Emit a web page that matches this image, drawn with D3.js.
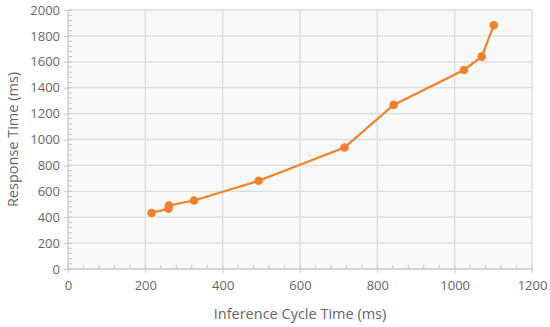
<!DOCTYPE html>
<html><head><meta charset="utf-8">
<script src="https://cdn.jsdelivr.net/npm/d3@7"></script>
<style>body{margin:0;background:#fff}svg{display:block}</style>
</head><body>
<svg id="c" width="550" height="327"></svg>
<script>
const cycleTime = [216, 260, 261, 326, 493, 715, 842, 1024, 1070, 1101];
const responseTime = [432, 466, 490, 529, 681, 938, 1267, 1537, 1640, 1882];
const xTicks = [0, 200, 400, 600, 800, 1000, 1200];
const yTicks = [0, 200, 400, 600, 800, 1000, 1200, 1400, 1600, 1800, 2000];
const xTitle = "Inference Cycle Time (ms)";
const yTitle = "Response Time (ms)";

const svg = d3.select("#c");
const m = {l: 68, r: 18, t: 10, b: 58};
const W = 550, H = 327;
const x = d3.scaleLinear().domain([0, 1200]).range([m.l, W - m.r]);
const y = d3.scaleLinear().domain([0, 2000]).range([H - m.b, m.t]);

svg.append("rect").attr("x", x(0)).attr("y", y(2000))
  .attr("width", x(1200) - x(0)).attr("height", y(0) - y(2000)).attr("fill", "#f9f9f9");

const g = svg.append("g");
// grid
g.selectAll(".gx").data(xTicks.slice(1)).join("line")
  .attr("x1", d => x(d)).attr("x2", d => x(d)).attr("y1", y(0)).attr("y2", y(2000))
  .attr("stroke", "#dcdcdc").attr("stroke-width", 1.3);
g.selectAll(".gy").data(yTicks.slice(1)).join("line")
  .attr("x1", x(0)).attr("x2", x(1200)).attr("y1", d => y(d)).attr("y2", d => y(d))
  .attr("stroke", "#dcdcdc").attr("stroke-width", 1.3);

// minor ticks
const xMinor = d3.range(0, 1201, 40);
const yMinor = d3.range(0, 2001, 40);
g.selectAll(".mx").data(xMinor).join("line")
  .attr("x1", d => x(d)).attr("x2", d => x(d)).attr("y1", y(0)).attr("y2", y(0) - 4)
  .attr("stroke", "#c8c8c8");
g.selectAll(".my").data(yMinor).join("line")
  .attr("x1", x(0)).attr("x2", x(0) + 4).attr("y1", d => y(d)).attr("y2", d => y(d))
  .attr("stroke", "#c8c8c8");

// axes
const xAxis = d3.axisBottom(x).tickValues(xTicks).tickSize(4).tickPadding(8).tickFormat(d3.format("d"));
const yAxis = d3.axisLeft(y).tickValues(yTicks).tickSize(4).tickPadding(4).tickFormat(d3.format("d"));
const gx = svg.append("g").attr("transform", `translate(0,${y(0)})`).call(xAxis);
const gy = svg.append("g").attr("transform", `translate(${x(0)},0)`).call(yAxis);
[gx, gy].forEach(a => {
  a.select(".domain").attr("stroke", "#c8c8c8").attr("stroke-width", 1.3);
  a.selectAll(".tick line").attr("stroke", "#c8c8c8");
  a.selectAll("text").attr("fill", "#666").style("font-family", "'Open Sans', sans-serif").style("font-size", "13px");
});
gy.select(".domain").attr("d", `M0,${y(0)}V${y(2000)}`);
gx.select(".domain").attr("d", `M0,0H${x(1200) - x(0)}`).attr("transform", `translate(${x(0)},0)`);

// line
const data = cycleTime.map((c, i) => ({x: c, y: responseTime[i]}));
const col = "#f0802a";
svg.append("path").datum(data)
  .attr("d", d3.line().x(d => x(d.x)).y(d => y(d.y)))
  .attr("fill", "none").attr("stroke", col).attr("stroke-width", 2.2);
svg.selectAll(".pt").data(data).join("circle")
  .attr("cx", d => x(d.x)).attr("cy", d => y(d.y)).attr("r", 4.3).attr("fill", col);

// titles
svg.append("text").attr("x", (x(0) + x(1200)) / 2).attr("y", 319).attr("text-anchor", "middle")
  .attr("fill", "#666").style("font-family", "'Open Sans', sans-serif").style("font-size", "14.5px").text(xTitle);
svg.append("text").attr("transform", `translate(18,${(y(0) + y(2000)) / 2}) rotate(-90)`).attr("text-anchor", "middle")
  .attr("fill", "#666").style("font-family", "'Open Sans', sans-serif").style("font-size", "14.5px").text(yTitle);
</script>
</body></html>
